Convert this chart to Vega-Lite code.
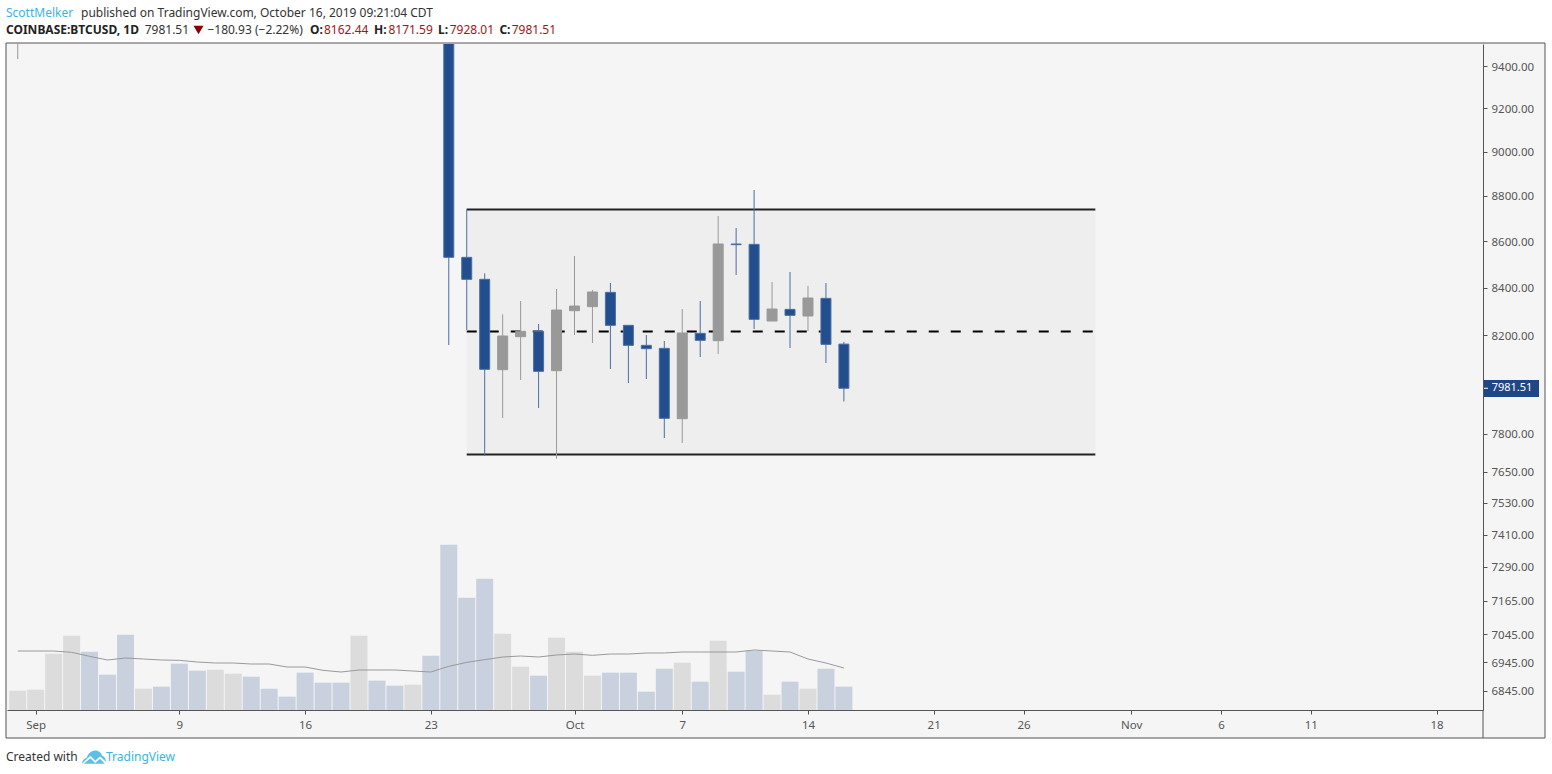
{
  "$schema": "https://vega.github.io/schema/vega-lite/v6.json",
  "description": "COINBASE:BTCUSD daily candles with a trading range box and volume.",
  "autosize": "none",
  "width": 1476,
  "height": 666,
  "padding": {"left": 7, "top": 44, "right": 69, "bottom": 64},
  "background": "#ffffff",
  "config": {
    "view": {"stroke": null},
    "font": "Noto Sans",
    "axis": {"grid": false}
  },
  "datasets": {
    "frame": [{"start": 1567153122495, "end": 1574556775021, "top": 9510.4, "bottom": 6683.2}],
    "separator": [{"at": 1574258512216, "top": 6778.9, "bottom": 6683.2}],
    "lastPrice": [{"start": 1574263322907, "end": 1574527910879, "top": 8015, "bottom": 7946.2}],
    "lastTick": [{"start": 1574263322907, "end": 1574282565669, "price": 7981.51}],
    "range": [{"start": "2019-09-25", "end": "2019-10-30", "high": 8740, "mid": 8215, "low": 7718}],
    "candles": [
      {"date": "2019-08-31", "dir": "up", "open": 9600, "high": 9700, "low": 9433, "close": 9630},
      {"date": "2019-09-24", "dir": "down", "open": 9680, "high": 9780, "low": 8158.6, "close": 8530},
      {"date": "2019-09-25", "dir": "down", "open": 8530, "high": 8740.4, "low": 8221, "close": 8435.3},
      {"date": "2019-09-26", "dir": "down", "open": 8435.3, "high": 8461, "low": 7713, "close": 8058.6},
      {"date": "2019-09-27", "dir": "up", "open": 8057.2, "high": 8286.7, "low": 7861.9, "close": 8196.1},
      {"date": "2019-09-28", "dir": "up", "open": 8193.3, "high": 8343, "low": 8015.1, "close": 8215.5},
      {"date": "2019-09-29", "dir": "down", "open": 8215.5, "high": 8246.1, "low": 7901.9, "close": 8050.4},
      {"date": "2019-09-30", "dir": "up", "open": 8053.1, "high": 8394, "low": 7701.4, "close": 8304.9},
      {"date": "2019-10-01", "dir": "up", "open": 8302.1, "high": 8535.8, "low": 8200.3, "close": 8321.8},
      {"date": "2019-10-02", "dir": "up", "open": 8319, "high": 8389.7, "low": 8167, "close": 8381.2},
      {"date": "2019-10-03", "dir": "down", "open": 8379.8, "high": 8419.6, "low": 8060, "close": 8240.6},
      {"date": "2019-10-04", "dir": "down", "open": 8240.6, "high": 8242, "low": 8002.8, "close": 8157.3},
      {"date": "2019-10-05", "dir": "down", "open": 8157.3, "high": 8200.3, "low": 8019.1, "close": 8143.5},
      {"date": "2019-10-06", "dir": "down", "open": 8144.9, "high": 8175.3, "low": 7782.5, "close": 7860.6},
      {"date": "2019-10-07", "dir": "up", "open": 7859.2, "high": 8309.1, "low": 7762.9, "close": 8208.6},
      {"date": "2019-10-08", "dir": "down", "open": 8207.2, "high": 8343, "low": 8109.2, "close": 8178.1},
      {"date": "2019-10-09", "dir": "up", "open": 8176.7, "high": 8711, "low": 8121.5, "close": 8588},
      {"date": "2019-10-10", "dir": "down", "open": 8588, "high": 8658, "low": 8453.9, "close": 8585},
      {"date": "2019-10-11", "dir": "down", "open": 8586.4, "high": 8826.6, "low": 8225.3, "close": 8265.7},
      {"date": "2019-10-12", "dir": "up", "open": 8258.7, "high": 8424, "low": 8258.7, "close": 8309.1},
      {"date": "2019-10-13", "dir": "down", "open": 8307.7, "high": 8466.7, "low": 8146.2, "close": 8282.5},
      {"date": "2019-10-14", "dir": "up", "open": 8279.7, "high": 8406.8, "low": 8216.9, "close": 8355.7},
      {"date": "2019-10-15", "dir": "down", "open": 8354.3, "high": 8419.6, "low": 8084.5, "close": 8161.4},
      {"date": "2019-10-16", "dir": "down", "open": 8162.44, "high": 8171.59, "low": 7928.01, "close": 7981.51}
    ],
    "volume": [
      {"date": "2019-08-31", "dir": "up", "volume": 1933, "ma": 5900},
      {"date": "2019-09-01", "dir": "up", "volume": 2033, "ma": 5900},
      {"date": "2019-09-02", "dir": "up", "volume": 5633, "ma": 5900},
      {"date": "2019-09-03", "dir": "up", "volume": 7433, "ma": 5767},
      {"date": "2019-09-04", "dir": "down", "volume": 5833, "ma": 5367},
      {"date": "2019-09-05", "dir": "down", "volume": 3533, "ma": 5000},
      {"date": "2019-09-06", "dir": "down", "volume": 7533, "ma": 5200},
      {"date": "2019-09-07", "dir": "up", "volume": 2133, "ma": 5100},
      {"date": "2019-09-08", "dir": "down", "volume": 2333, "ma": 5000},
      {"date": "2019-09-09", "dir": "down", "volume": 4633, "ma": 4967},
      {"date": "2019-09-10", "dir": "down", "volume": 3933, "ma": 4800},
      {"date": "2019-09-11", "dir": "up", "volume": 4033, "ma": 4700},
      {"date": "2019-09-12", "dir": "up", "volume": 3633, "ma": 4700},
      {"date": "2019-09-13", "dir": "down", "volume": 3333, "ma": 4600},
      {"date": "2019-09-14", "dir": "down", "volume": 2133, "ma": 4600},
      {"date": "2019-09-15", "dir": "down", "volume": 1333, "ma": 4300},
      {"date": "2019-09-16", "dir": "down", "volume": 3733, "ma": 4300},
      {"date": "2019-09-17", "dir": "down", "volume": 2733, "ma": 3967},
      {"date": "2019-09-18", "dir": "down", "volume": 2733, "ma": 3800},
      {"date": "2019-09-19", "dir": "up", "volume": 7433, "ma": 4000},
      {"date": "2019-09-20", "dir": "down", "volume": 2933, "ma": 4000},
      {"date": "2019-09-21", "dir": "down", "volume": 2433, "ma": 4000},
      {"date": "2019-09-22", "dir": "up", "volume": 2533, "ma": 3900},
      {"date": "2019-09-23", "dir": "down", "volume": 5433, "ma": 3800},
      {"date": "2019-09-24", "dir": "down", "volume": 16533, "ma": 4367},
      {"date": "2019-09-25", "dir": "down", "volume": 11233, "ma": 4767},
      {"date": "2019-09-26", "dir": "down", "volume": 13133, "ma": 5033},
      {"date": "2019-09-27", "dir": "up", "volume": 7633, "ma": 5300},
      {"date": "2019-09-28", "dir": "up", "volume": 4333, "ma": 5400},
      {"date": "2019-09-29", "dir": "down", "volume": 3433, "ma": 5300},
      {"date": "2019-09-30", "dir": "up", "volume": 7233, "ma": 5500},
      {"date": "2019-10-01", "dir": "up", "volume": 5833, "ma": 5600},
      {"date": "2019-10-02", "dir": "up", "volume": 3433, "ma": 5467},
      {"date": "2019-10-03", "dir": "down", "volume": 3733, "ma": 5600},
      {"date": "2019-10-04", "dir": "down", "volume": 3733, "ma": 5600},
      {"date": "2019-10-05", "dir": "down", "volume": 1833, "ma": 5700},
      {"date": "2019-10-06", "dir": "down", "volume": 4133, "ma": 5700},
      {"date": "2019-10-07", "dir": "up", "volume": 4733, "ma": 5800},
      {"date": "2019-10-08", "dir": "down", "volume": 2833, "ma": 5800},
      {"date": "2019-10-09", "dir": "up", "volume": 6933, "ma": 5800},
      {"date": "2019-10-10", "dir": "down", "volume": 3833, "ma": 5800},
      {"date": "2019-10-11", "dir": "down", "volume": 5933, "ma": 6000},
      {"date": "2019-10-12", "dir": "up", "volume": 1533, "ma": 5900},
      {"date": "2019-10-13", "dir": "down", "volume": 2833, "ma": 5800},
      {"date": "2019-10-14", "dir": "up", "volume": 2133, "ma": 5100},
      {"date": "2019-10-15", "dir": "down", "volume": 4133, "ma": 4700},
      {"date": "2019-10-16", "dir": "down", "volume": 2333, "ma": 4200}
    ],
    "notes": [
      {"label": "ScottMelker", "role": "link", "at": 1567153122495, "price": 9656.3},
      {"label": "published on TradingView.com, October 16, 2019 09:21:04 CDT", "role": "plain", "at": 1567513924275, "price": 9656.3},
      {"label": "7981.51", "role": "plain", "at": 1567820365254, "price": 9575.8},
      {"label": "−180.93 (−2.22%)", "role": "plain", "at": 1568121995542, "price": 9575.8},
      {"label": "8162.44", "role": "quote", "at": 1568682922043, "price": 9575.8},
      {"label": "8171.59", "role": "quote", "at": 1568992730504, "price": 9575.8},
      {"label": "7928.01", "role": "quote", "at": 1569287625826, "price": 9575.8},
      {"label": "7981.51", "role": "quote", "at": 1569585888631, "price": 9575.8},
      {"label": "Created with", "role": "plain", "at": 1567153122495, "price": 6619},
      {"label": "TradingView", "role": "link", "at": 1567634191535, "price": 6619}
    ],
    "notesBold": [
      {"label": "COINBASE:BTCUSD, 1D", "at": 1567153122495, "price": 9575.8},
      {"label": "O:", "at": 1568615572377, "price": 9575.8},
      {"label": "H:", "at": 1568923456563, "price": 9575.8},
      {"label": "L:", "at": 1569231340748, "price": 9575.8},
      {"label": "C:", "at": 1569526717139, "price": 9575.8}
    ]
  },
  "resolve": {"scale": {"y": "independent", "fill": "independent", "color": "independent", "stroke": "independent"}},
  "layer": [
    {
      "layer": [
        {
          "data": {"name": "frame"},
          "mark": {"type": "rect", "fill": "#f5f5f5", "stroke": "#555555", "strokeWidth": 1, "clip": false},
          "encoding": {
            "x": {
              "field": "start",
              "type": "temporal",
              "scale": {"type": "utc", "domain": [1567157933186, 1574258512216], "padding": 0},
              "title": null,
              "axis": {
                "zindex": 1,
                "values": [1567296000000, 1567987200000, 1568592000000, 1569196800000, 1569888000000, 1570406400000, 1571011200000, 1571616000000, 1572048000000, 1572566400000, 1572998400000, 1573430400000, 1574035200000],
                "labelExpr": "utcFormat(datum.value, '%d') == '01' ? utcFormat(datum.value, '%b') : utcFormat(datum.value, '%-d')",
                "domainColor": "#555555",
                "domainWidth": 1,
                "tickColor": "#555555",
                "tickSize": 4,
                "labelColor": "#555555",
                "labelFontSize": 11.5,
                "labelPadding": 5,
                "labelFlush": false,
                "labelOverlap": false
              }
            },
            "x2": {"field": "end"},
            "y": {
              "field": "top",
              "type": "quantitative",
              "scale": {"type": "log", "domain": [6778.9, 9505.6], "nice": false},
              "title": null,
              "axis": {
                "orient": "right",
                "zindex": 1,
                "values": [6845, 6945, 7045, 7165, 7290, 7410, 7530, 7650, 7800, 8200, 8400, 8600, 8800, 9000, 9200, 9400],
                "format": ".2f",
                "domainColor": "#555555",
                "domainWidth": 1,
                "tickColor": "#555555",
                "tickSize": 4,
                "labelColor": "#555555",
                "labelFontSize": 11.5,
                "labelPadding": 4,
                "labelOffset": 1,
                "labelOverlap": false
              }
            },
            "y2": {"field": "bottom"}
          }
        },
        {
          "data": {"name": "separator"},
          "mark": {"type": "rule", "color": "#555555", "strokeWidth": 1, "clip": false},
          "encoding": {
            "x": {"field": "at", "type": "temporal"},
            "y": {"field": "top", "type": "quantitative"},
            "y2": {"field": "bottom"}
          }
        },
        {
          "data": {"name": "lastPrice"},
          "mark": {"type": "rect", "fill": "#1F4788", "clip": false},
          "encoding": {
            "x": {"field": "start", "type": "temporal"},
            "x2": {"field": "end"},
            "y": {"field": "top", "type": "quantitative"},
            "y2": {"field": "bottom"}
          }
        },
        {
          "data": {"name": "lastTick"},
          "mark": {"type": "rule", "color": "#ffffff", "strokeWidth": 1, "clip": false},
          "encoding": {
            "x": {"field": "start", "type": "temporal"},
            "x2": {"field": "end"},
            "y": {"field": "price", "type": "quantitative"}
          }
        },
        {
          "data": {"name": "range"},
          "mark": {"type": "rect", "fill": "#eeeeee"},
          "encoding": {
            "x": {"field": "start", "type": "temporal"},
            "x2": {"field": "end"},
            "y": {"field": "high", "type": "quantitative"},
            "y2": {"field": "low"}
          }
        },
        {
          "data": {"name": "range"},
          "mark": {"type": "rule", "color": "#222222", "strokeWidth": 2},
          "encoding": {
            "x": {"field": "start", "type": "temporal"},
            "x2": {"field": "end"},
            "y": {"field": "high", "type": "quantitative"}
          }
        },
        {
          "data": {"name": "range"},
          "mark": {"type": "rule", "color": "#222222", "strokeWidth": 2},
          "encoding": {
            "x": {"field": "start", "type": "temporal"},
            "x2": {"field": "end"},
            "y": {"field": "low", "type": "quantitative"}
          }
        },
        {
          "data": {"name": "range"},
          "mark": {"type": "rule", "color": "#000000", "strokeWidth": 2, "strokeDash": [10, 12]},
          "encoding": {
            "x": {"field": "start", "type": "temporal"},
            "x2": {"field": "end"},
            "y": {"field": "mid", "type": "quantitative"}
          }
        },
        {
          "data": {"name": "candles"},
          "mark": {"type": "rule", "strokeWidth": 1, "clip": true},
          "encoding": {
            "x": {"field": "date", "type": "temporal"},
            "y": {"field": "high", "type": "quantitative"},
            "y2": {"field": "low"},
            "stroke": {
              "field": "dir",
              "type": "nominal",
              "scale": {"domain": ["down", "up"], "range": ["#4A6EA5", "#999999"]},
              "legend": null
            }
          }
        },
        {
          "data": {"name": "candles"},
          "mark": {"type": "bar", "width": 10, "strokeWidth": 1, "clip": true},
          "encoding": {
            "x": {"field": "date", "type": "temporal"},
            "y": {"field": "open", "type": "quantitative"},
            "y2": {"field": "close"},
            "fill": {
              "field": "dir",
              "type": "nominal",
              "scale": {"domain": ["down", "up"], "range": ["#234E8E", "#999999"]},
              "legend": null
            },
            "stroke": {"field": "dir", "type": "nominal", "legend": null}
          }
        },
        {
          "data": {"name": "notes"},
          "mark": {"type": "text", "align": "left", "baseline": "middle", "fontSize": 12, "clip": false},
          "encoding": {
            "x": {"field": "at", "type": "temporal"},
            "y": {"field": "price", "type": "quantitative"},
            "text": {"field": "label"},
            "color": {
              "field": "role",
              "type": "nominal",
              "scale": {"domain": ["link", "plain", "quote"], "range": ["#3BB3E4", "#333333", "#A31515"]},
              "legend": null
            }
          }
        },
        {
          "data": {"name": "notesBold"},
          "mark": {"type": "text", "align": "left", "baseline": "middle", "fontSize": 12, "fontWeight": "bold", "color": "#222222", "clip": false},
          "encoding": {
            "x": {"field": "at", "type": "temporal"},
            "y": {"field": "price", "type": "quantitative"},
            "text": {"field": "label"}
          }
        },
        {
          "data": {"values": [{"at": 1574398022237, "price": 7981.51, "label": "7981.51"}]},
          "mark": {"type": "text", "align": "center", "baseline": "middle", "fontSize": 11, "color": "#ffffff", "clip": false},
          "encoding": {
            "x": {"field": "at", "type": "temporal"},
            "y": {"field": "price", "type": "quantitative"},
            "text": {"field": "label"}
          }
        },
        {
          "data": {"values": [{"at": 1568079180397, "price": 9573.4}]},
          "mark": {"type": "point", "filled": true, "opacity": 1, "size": 100, "color": "#8B0000", "shape": "triangle-down", "clip": false},
          "encoding": {
            "x": {"field": "at", "type": "temporal"},
            "y": {"field": "price", "type": "quantitative"}
          }
        },
        {
          "data": {"values": [{"at": 1567576463251, "price": 6619}]},
          "mark": {
            "type": "point",
            "filled": true,
            "opacity": 1,
            "size": 576,
            "color": "#5BC0E8",
            "shape": "M-1,0.55 C-1,0.3 -0.8,0.1 -0.6,0.05 C-0.5,-0.3 -0.2,-0.55 0.1,-0.55 C0.4,-0.55 0.6,-0.35 0.68,-0.1 C0.85,-0.05 1,0.15 1,0.4 L0.5,-0.05 L0.1,0.3 L-0.3,-0.1 L-1,0.55 Z M-0.85,0.55 L-0.3,0.1 L0.1,0.5 L0.5,0.15 L0.9,0.55 Z",
            "clip": false
          },
          "encoding": {
            "x": {"field": "at", "type": "temporal"},
            "y": {"field": "price", "type": "quantitative"}
          }
        }
      ]
    },
    {
      "layer": [
        {
          "data": {"name": "volume"},
          "mark": {"type": "bar", "width": 17},
          "encoding": {
            "x": {"field": "date", "type": "temporal"},
            "y": {
              "field": "volume",
              "type": "quantitative",
              "scale": {"domain": [0, 66600], "nice": false},
              "axis": null
            },
            "fill": {
              "field": "dir",
              "type": "nominal",
              "scale": {"domain": ["down", "up"], "range": ["#C9D1DF", "#DCDCDC"]},
              "legend": null
            }
          }
        },
        {
          "data": {"name": "volume"},
          "mark": {"type": "line", "color": "#999999", "strokeWidth": 1},
          "encoding": {
            "x": {"field": "date", "type": "temporal"},
            "y": {"field": "ma", "type": "quantitative"}
          }
        }
      ]
    }
  ]
}
